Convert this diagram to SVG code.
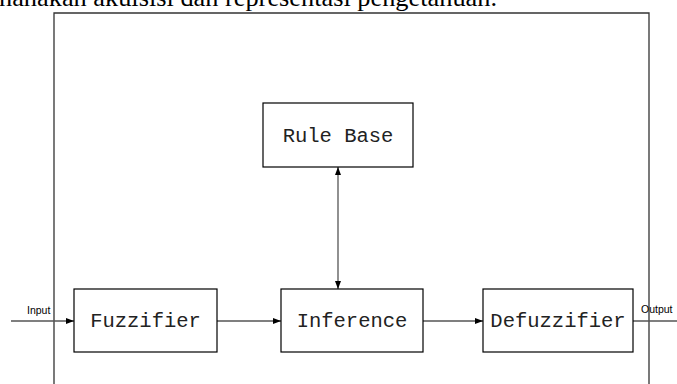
<svg xmlns="http://www.w3.org/2000/svg" width="677" height="384" viewBox="0 0 677 384">
  <style>
    .box { fill: #fff; stroke: #000; stroke-width: 1.2; }
    .lbl { font-family: "Liberation Mono", "Courier New", monospace; font-size: 20.5px; fill: #222; text-anchor: middle; }
    .io { font-family: "Liberation Sans", Arial, sans-serif; font-size: 10.5px; fill: #000; }
    .wire { stroke: #555; stroke-width: 1.3; fill: none; }
    .frame { stroke: #333; stroke-width: 1.3; fill: none; }
  </style>
  <defs>
    <marker id="arr" viewBox="0 0 8 6" refX="8" refY="3" markerWidth="8" markerHeight="6" markerUnits="userSpaceOnUse" orient="auto">
      <path d="M0,0 L8,3 L0,6 Z" fill="#000"/>
    </marker>
    <marker id="arrStart" viewBox="0 0 8 6" refX="0" refY="3" markerWidth="8" markerHeight="6" markerUnits="userSpaceOnUse" orient="auto">
      <path d="M8,0 L0,3 L8,6 Z" fill="#000"/>
    </marker>
  </defs>

  <!-- caption line above the figure -->
  <text x="-1" y="6" font-family="Liberation Serif, 'Times New Roman', serif" font-size="25" fill="#000" textLength="498" lengthAdjust="spacingAndGlyphs">nahakan akuisisi dan representasi pengetahuan.</text>

  <!-- system boundary -->
  <path class="frame" d="M54,384 L54,13 L649,13 L649,384"/>

  <!-- connectors -->
  <g id="connectors">
    <line class="wire" x1="11" y1="321" x2="74" y2="321" marker-end="url(#arr)"/>
    <line class="wire" x1="217" y1="321" x2="281" y2="321" marker-end="url(#arr)"/>
    <line class="wire" x1="423" y1="321" x2="483" y2="321" marker-end="url(#arr)"/>
    <line class="wire" x1="633" y1="321" x2="677" y2="321"/>
    <line class="wire" x1="338" y1="167" x2="338" y2="289" marker-start="url(#arrStart)" marker-end="url(#arr)"/>
    <text class="io" x="27" y="314">Input</text>
    <text class="io" x="641" y="313">Output</text>
  </g>

  <g id="rule-base">
    <rect class="box" x="263" y="103" width="150" height="64"/>
    <text class="lbl" x="338" y="142">Rule Base</text>
  </g>

  <g id="fuzzifier">
    <rect class="box" x="74" y="289" width="143" height="63"/>
    <text class="lbl" x="145.5" y="327">Fuzzifier</text>
  </g>

  <g id="inference">
    <rect class="box" x="281" y="289" width="142" height="63"/>
    <text class="lbl" x="352" y="327">Inference</text>
  </g>

  <g id="defuzzifier">
    <rect class="box" x="483" y="289" width="150" height="63"/>
    <text class="lbl" x="558" y="327">Defuzzifier</text>
  </g>
</svg>
